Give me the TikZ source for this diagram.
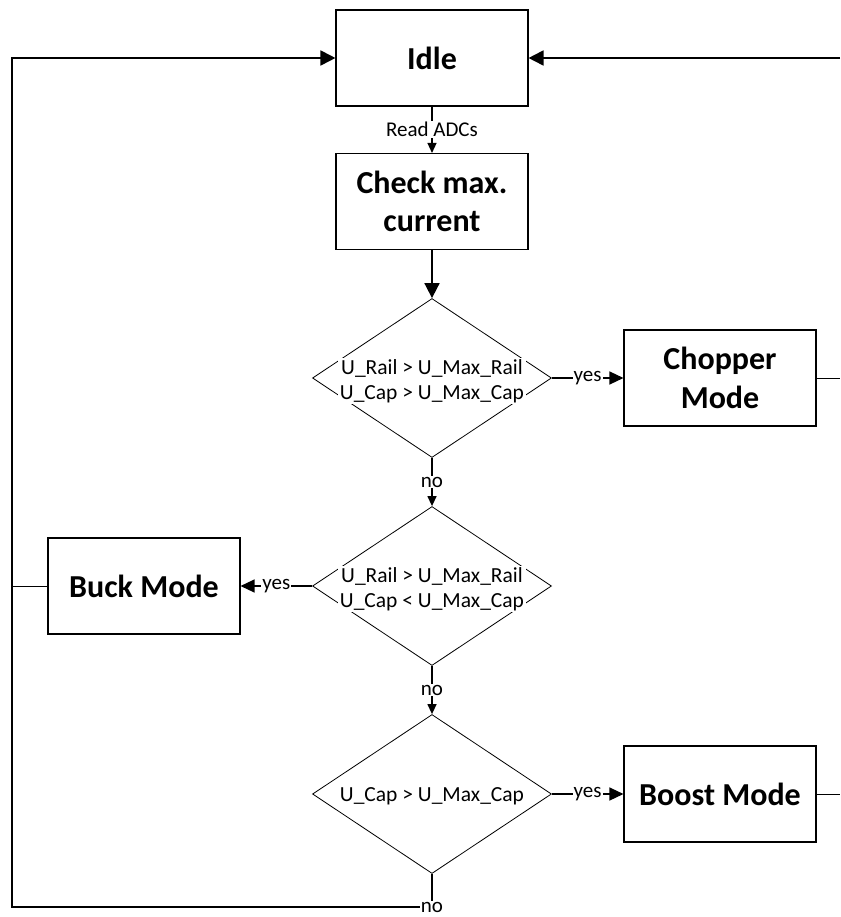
\documentclass[tikz,border=0pt]{standalone}
\usepackage{fontspec}
\setmainfont{Carlito}
\usetikzlibrary{shapes.geometric,arrows.meta}
\begin{document}
\begin{tikzpicture}[x=1pt,y=-1pt,
  box/.style={draw,line width=1.1pt,minimum width=192pt,minimum height=96pt,align=center,inner sep=0pt,font=\bfseries\fontsize{32}{38.5}\selectfont},
  dec/.style={draw,diamond,line width=0.8pt,minimum width=239pt,minimum height=159pt,inner sep=0pt},
  dtext/.style={fill=white,inner sep=1.5pt,align=center,font=\fontsize{21.5}{25}\selectfont},
  lbl/.style={fill=white,inner sep=1pt,font=\fontsize{21}{25}\selectfont},
  bigtip/.style={-{Triangle[length=15pt,width=15pt]}},
  midtip/.style={-{Triangle[length=14pt,width=13pt]}},
  smalltip/.style={-{Triangle[length=10pt,width=9pt]}},
  conn/.style={line width=1.3pt},
  thin/.style={line width=1pt},
  loopline/.style={line width=1.8pt}]
\useasboundingbox (0,0) rectangle (840,917);

\node[box] (idle) at (432,58) {Idle};
\node[box] (check) at (432,201.5) {Check max.\\current};
\node[dec] (d1) at (432,378) {};
\node[dtext] (t1) at (432,381) {U\_Rail > U\_Max\_Rail\\U\_Cap > U\_Max\_Cap};
\node[box] (chop) at (720,378) {Chopper\\Mode};
\node[dec] (d2) at (432,586) {};
\node[dtext] (t2) at (432,589) {U\_Rail > U\_Max\_Rail\\U\_Cap < U\_Max\_Cap};
\node[box] (buck) at (144,586) {Buck Mode};
\node[dec] (d3) at (432,794) {};
\node[dtext,fill=none] (t3) at (432,796) {U\_Cap > U\_Max\_Cap};
\node[box] (boost) at (720,794) {Boost Mode};

\coordinate (cb) at (432,907);
\coordinate (lb) at (12,907);
\coordinate (lt) at (12,58);
\coordinate (lbuck) at (12,586);
\coordinate (rt) at (840,58);
\coordinate (rc) at (840,378);
\coordinate (rb) at (840,794);

\draw[conn,smalltip] (idle.south) -- node[lbl]{Read ADCs} (check.north);
\draw[loopline,bigtip] (check.south) -- (d1.north);
\draw[conn,midtip] (d1.east) -- node[lbl]{yes} (chop.west);
\draw[conn,smalltip] (d1.south) -- node[lbl]{no} (d2.north);
\draw[conn,midtip] (d2.west) -- node[lbl]{yes} (buck.east);
\draw[conn,smalltip] (d2.south) -- node[lbl]{no} (d3.north);
\draw[conn,midtip] (d3.east) -- node[lbl]{yes} (boost.west);
\draw[thin] (buck.west) -- (lbuck);
\draw[thin] (chop.east) -- (rc);
\draw[thin] (boost.east) -- (rb);
\draw[loopline,bigtip] (rt) -- (idle.east);
\draw[loopline,bigtip] (d3.south) -- (cb) -- (lb) -- (lt) -- (idle.west);
\node[lbl,inner sep=0.5pt] (nob) at (cb) {no};
\end{tikzpicture}
\end{document}
